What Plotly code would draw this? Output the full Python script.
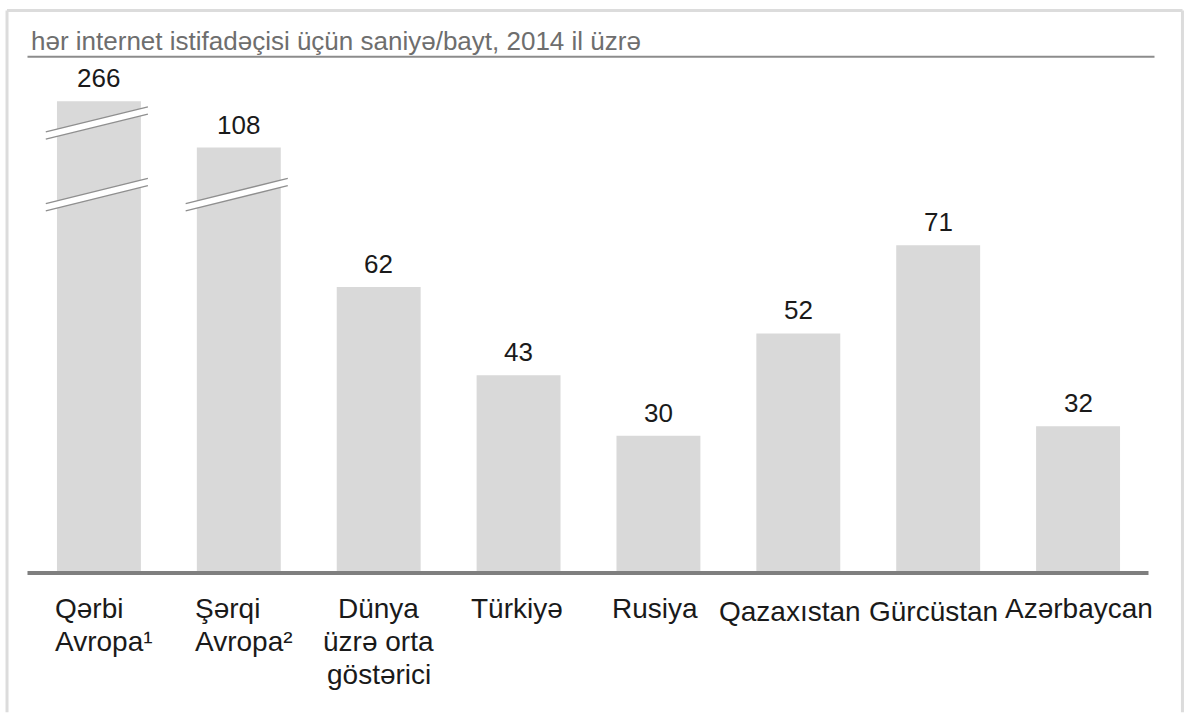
import plotly.graph_objects as go

# data
categories = ["Qərbi Avropa¹", "Şərqi Avropa²", "Dünya üzrə orta göstərici",
              "Türkiyə", "Rusiya", "Qazaxıstan", "Gürcüstan", "Azərbaycan"]
label_lines = [["Qərbi", "Avropa¹"], ["Şərqi", "Avropa²"], ["Dünya", "üzrə orta", "göstərici"],
               ["Türkiyə"], ["Rusiya"], ["Qazaxıstan"], ["Gürcüstan"], ["Azərbaycan"]]
values = [266, 108, 62, 43, 30, 52, 71, 32]
# heights as drawn on the broken axis (first two bars are cut)
bar_heights = [102, 92, 62, 43, 30, 52, 71, 32]
# levels of the axis-break marks, per broken bar
break_levels = [[97.4, 82], [82]]
title = "hər internet istifadəçisi üçün saniyə/bayt, 2014 il üzrə"

W, H = 1185, 713
L, R, T, B = 28.5, 36.5, 64, 137.5
Y_MAX = 110
FONT = "Liberation Sans, Arial, sans-serif"

# small per-label nudges (pixels) so the tightly packed names don't collide
label_dx = [0, 0, 0, -2, -3, -8, -5, 1]
label_dy = [0, 0, 0, 0, 0, -3, -3, 0]


def px2x(p):
    return (p - L) / (W - L - R)


def px2y(p):
    return (H - B - p) / (H - T - B)


fig = go.Figure(go.Bar(
    x=categories,
    y=bar_heights,
    marker=dict(color="#d9d9d9", line=dict(width=0)),
    width=0.6,
    hoverinfo="skip",
))

shapes = []
annotations = []

# frame around the exhibit
for x0, y0, x1, y1 in [(6.5, 10.5, 1183, 10.5), (6.5, 10.5, 6.5, H), (1183, 10.5, 1183, H)]:
    shapes.append(dict(type="line", xref="paper", yref="paper",
                       x0=px2x(x0), y0=px2y(y0), x1=px2x(x1), y1=px2y(y1),
                       line=dict(color="#dcdcdc", width=3)))

# rule under the subtitle
shapes.append(dict(type="line", xref="paper", yref="paper",
                   x0=px2x(27), x1=px2x(1155), y0=px2y(56.7), y1=px2y(56.7),
                   line=dict(color="#8c8c8c", width=2)))

# thick baseline
shapes.append(dict(type="line", xref="paper", yref="y", x0=px2x(27), x1=px2x(1149),
                   y0=0, y1=0, line=dict(color="#7f7f7f", width=8)))

# break marks on the cut bars
slope = 7.4
for i, levels in enumerate(break_levels):
    for yc in levels:
        xa, xb = i - 0.38, i + 0.35
        ya, yb = yc - 0.38 * slope, yc + 0.35 * slope
        shapes.append(dict(type="line", xref="x", yref="y", x0=xa, x1=xb, y0=ya, y1=yb,
                           line=dict(color="white", width=7)))
        for off in (0.78, -0.78):
            shapes.append(dict(type="line", xref="x", yref="y", x0=xa, x1=xb,
                               y0=ya + off, y1=yb + off,
                               line=dict(color="#8f8f8f", width=1.3)))

# value labels
for i, (h, v) in enumerate(zip(bar_heights, values)):
    annotations.append(dict(x=i, y=h, xref="x", yref="y", text=str(v), showarrow=False,
                            yanchor="bottom", yshift=6,
                            font=dict(family=FONT, size=26, color="#1a1a1a")))

# category labels, one annotation per line (the first two are left-aligned)
for i, lines in enumerate(label_lines):
    left = i < 2
    for k, line in enumerate(lines):
        annotations.append(dict(x=i - 0.325 if left else i, y=0, xref="x", yref="y",
                                text=line, showarrow=False,
                                xanchor="left" if left else "center",
                                xshift=label_dx[i],
                                yanchor="top", yshift=-16 - 33 * k + label_dy[i],
                                font=dict(family=FONT, size=28, color="#1a1a1a")))

# subtitle
annotations.append(dict(x=px2x(29), y=px2y(41), xref="paper", yref="paper", text=title,
                        showarrow=False, xanchor="left", yanchor="middle",
                        font=dict(family=FONT, size=26, color="#6e6e6e")))

fig.update_layout(
    width=W, height=H,
    margin=dict(l=L, r=R, t=T, b=B),
    paper_bgcolor="white", plot_bgcolor="white",
    showlegend=False,
    shapes=shapes,
    annotations=annotations,
    xaxis=dict(type="category", range=[-0.5, 7.5], showticklabels=False,
               showgrid=False, zeroline=False, showline=False, fixedrange=True),
    yaxis=dict(range=[0, Y_MAX], visible=False, showgrid=False, zeroline=False,
               fixedrange=True),
)

# the page adds an 8px body margin; drop it so the figure sits at the window origin
fig.write_html("out.html", post_script="document.body.style.margin='0';",
               config={"displayModeBar": False})
